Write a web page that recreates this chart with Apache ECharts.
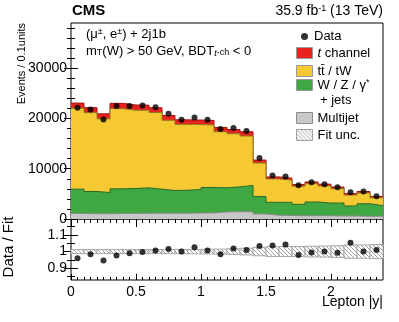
<!DOCTYPE html>
<html>
<head>
<meta charset="utf-8">
<script src="https://cdn.jsdelivr.net/npm/echarts@6/dist/echarts.min.js"></script>
<style>
html, body { margin: 0; padding: 0; background: #fff; }
#chart { width: 399px; height: 322px; }
</style>
</head>
<body>
<div id="chart"></div>
<script>
// bins in lepton |y|, width 0.1
const binEdges = [0, 0.1, 0.2, 0.3, 0.4, 0.5, 0.6, 0.7, 0.8, 0.9, 1.0, 1.1, 1.2, 1.3, 1.4, 1.5, 1.6, 1.7, 1.8, 1.9, 2.0, 2.1, 2.2, 2.3, 2.4];
const dataCounts = [22140, 21800, 19800, 22460, 22460, 22600, 22260, 20930, 19730, 20200, 19730, 17930, 18130, 17530, 12130, 8670, 8470, 6730, 7330, 6930, 6330, 5330, 5470, 4530];
// fitted processes (stacked bottom -> top)
const multijet = [1100, 1050, 1050, 1100, 1100, 1150, 1150, 1150, 1150, 1200, 1200, 1400, 1450, 1450, 1000, 750, 700, 650, 650, 650, 600, 600, 550, 550];
const wzJets = [4830, 4420, 4220, 4900, 4970, 5050, 4780, 4520, 4580, 4670, 5070, 4800, 4950, 5220, 3470, 2570, 2620, 2270, 2730, 2530, 2580, 1990, 2490, 2100];
const ttbar = [16130, 15680, 14660, 15960, 15570, 15450, 15250, 13980, 13100, 12920, 12440, 11170, 10560, 9840, 6660, 4650, 4410, 3600, 3640, 3400, 2860, 2170, 2130, 1560];
const tChannel = [1000, 1000, 1000, 1050, 1050, 1000, 950, 950, 900, 900, 900, 850, 850, 850, 600, 400, 400, 350, 350, 350, 330, 300, 300, 280];
// relative fit uncertainty per bin
const fitUnc = [0.012, 0.012, 0.012, 0.012, 0.012, 0.012, 0.012, 0.012, 0.013, 0.013, 0.014, 0.015, 0.017, 0.02, 0.025, 0.03, 0.03, 0.03, 0.032, 0.033, 0.035, 0.04, 0.04, 0.042];

const xMajor = [0, 0.5, 1, 1.5, 2];
const yMajor = [0, 10000, 20000, 30000];
const rMajor = [0.9, 1, 1.1];
const rMinor = [0.85, 0.95, 1.05, 1.15];

const FONT = 'Liberation Sans';

const xMinor = [];
for (let k = 1; k < 48; k++) if (k % 10) xMinor.push(+(k * 0.05).toFixed(2));
const yMinor = [];
for (let k = 1; k < 20; k++) if (k % 5) yMinor.push(k * 2000);

const centers = binEdges.slice(0, -1).map((e, i) => (e + binEdges[i + 1]) / 2);

// cumulative tops of the stack
const cumMJ = multijet.slice();
const cumWZ = cumMJ.map((v, i) => v + wzJets[i]);
const cumTT = cumWZ.map((v, i) => v + ttbar[i]);
const total = cumTT.map((v, i) => v + tChannel[i]);

// hatch pattern for the fit uncertainty
const hatch = document.createElement('canvas');
hatch.width = 4; hatch.height = 4;
const hc = hatch.getContext('2d');
hc.fillStyle = '#fff';
hc.fillRect(0, 0, 4, 4);
hc.strokeStyle = '#a0a0a0';
hc.lineWidth = 1;
hc.beginPath();
hc.moveTo(-1, -1); hc.lineTo(5, 5);
hc.stroke();
const hatchFill = { image: hatch, repeat: 'repeat' };

function steps(vals) {
  const pts = vals.map((v, i) => [binEdges[i], v]);
  pts.push([binEdges[vals.length], vals[vals.length - 1]]);
  return pts;
}

// each component is filled down to zero, lower components sit on top (higher z)
function stackSeries(name, tops, fill, edge, z) {
  return {
    name: name, type: 'line', step: 'end', data: steps(tops),
    symbol: 'none', z: z, silent: true,
    lineStyle: { color: edge, width: 1 },
    areaStyle: { color: fill, opacity: 1 },
    itemStyle: { color: fill },
    xAxisIndex: 0, yAxisIndex: 0
  };
}

function axes(kind, grid, min, max, major, minor, posA, posB, showLabels, lenMaj, lenMin, fmt) {
  const base = { type: 'value', gridIndex: grid, min: min, max: max, splitLine: { show: false }, axisLine: { show: false } };
  const out = [];
  [posA, posB].forEach((pos, j) => {
    out.push(Object.assign({}, base, {
      position: pos,
      axisTick: { inside: true, length: lenMaj, customValues: major, lineStyle: { color: '#000' } },
      axisLabel: (j === 0 && showLabels)
        ? { customValues: major, formatter: fmt, margin: kind === 'x' ? 5 : 4, color: '#000', fontFamily: FONT, fontSize: 14 }
        : { show: false }
    }));
    out.push(Object.assign({}, base, {
      position: pos,
      axisTick: { inside: true, length: lenMin, customValues: minor, lineStyle: { color: '#000' } },
      axisLabel: { show: false }
    }));
  });
  return out;
}

const xAxis = [].concat(
  axes('x', 0, 0, 2.4, xMajor, xMinor, 'bottom', 'top', false, 8, 4),
  axes('x', 1, 0, 2.4, xMajor, xMinor, 'bottom', 'top', true, 6, 3, v => String(v))
);
const yAxis = [].concat(
  axes('y', 0, 0, 39000, yMajor, yMinor, 'left', 'right', true, 7, 4, v => String(v)),
  axes('y', 1, 0.83, 1.195, rMajor, rMinor, 'left', 'right', true, 7, 4, v => v === 1 ? '1' : v.toFixed(1))
);

const txt = { fontFamily: FONT, fontSize: 13, color: '#000' };
const sup = { fontFamily: FONT, fontSize: 9, verticalAlign: 'top', color: '#000' };

function legendAt(name, top, opts) {
  return Object.assign({
    data: [name], left: 296, top: top, orient: 'vertical', selectedMode: false,
    itemWidth: 16, itemHeight: 11, icon: 'rect', padding: 0,
    textStyle: Object.assign({}, txt, { rich: { i: Object.assign({}, txt, { fontStyle: 'italic' }), s: sup, n: txt } })
  }, opts);
}

const option = {
  animation: false,
  grid: [
    { left: 71, right: 16, top: 23, height: 196, show: true, borderColor: '#000', borderWidth: 1, backgroundColor: 'transparent' },
    { left: 71, right: 16, top: 219, height: 61, show: true, borderColor: '#000', borderWidth: 1, backgroundColor: 'transparent' }
  ],
  xAxis: xAxis,
  yAxis: yAxis,
  legend: [
    legendAt('Data', 30, { left: 301, itemWidth: 7, itemHeight: 7, icon: 'circle', itemStyle: { color: '#000', borderWidth: 0 },
      textStyle: Object.assign({}, txt, { padding: [0, 0, 0, 1] }) }),
    legendAt('t channel', 46.5, { itemStyle: { color: '#e8231f', borderColor: '#9a9a9a', borderWidth: 1 },
      formatter: () => '{i|t}{n| channel}' }),
    legendAt('tt / tW', 64.5, { itemStyle: { color: '#f6c932', borderColor: '#9a9a9a', borderWidth: 1 },
      formatter: () => 'tt\u0304 / tW' }),
    legendAt('W / Z / γ* + jets', 78.5, { itemStyle: { color: '#3fa843', borderColor: '#9a9a9a', borderWidth: 1 },
      formatter: () => '{n|W / Z / γ}{s|*}' }),
    legendAt('Multijet', 111.5, { itemStyle: { color: '#c8c8c8', borderColor: '#8a8a8a', borderWidth: 1 } }),
    legendAt('Fit unc.', 128.5, { itemStyle: { color: hatchFill, borderColor: '#a0a0a0', borderWidth: 1 } })
  ],
  series: [
    stackSeries('t channel', total, '#e8231f', '#a3150f', 3),
    stackSeries('tt / tW', cumTT, '#f6c932', '#8f7a22', 4),
    stackSeries('W / Z / γ* + jets', cumWZ, '#3fa843', '#2a6b2b', 5),
    stackSeries('Multijet', cumMJ, '#c8c8c8', '#8a8a8a', 6),
    {
      name: 'Data', type: 'scatter', xAxisIndex: 0, yAxisIndex: 0, z: 10,
      symbol: 'circle', symbolSize: 6, itemStyle: { color: '#000' }, silent: true,
      data: centers.map((c, i) => [c, dataCounts[i]])
    },
    {
      name: 'Fit unc.', type: 'custom', xAxisIndex: 4, yAxisIndex: 4, z: 3, silent: true,
      itemStyle: { color: '#a0a0a0' },
      data: centers.map((c, i) => [binEdges[i], binEdges[i + 1], 1 - fitUnc[i], 1 + fitUnc[i]]),
      renderItem: function (params, api) {
        const a = api.coord([api.value(0), api.value(3)]);
        const b = api.coord([api.value(1), api.value(2)]);
        return {
          type: 'rect',
          shape: { x: a[0], y: a[1], width: b[0] - a[0], height: b[1] - a[1] },
          style: { fill: hatchFill, stroke: '#a8a8a8', lineWidth: 1 }
        };
      }
    },
    {
      name: 'Data / Fit', type: 'scatter', xAxisIndex: 4, yAxisIndex: 4, z: 10,
      symbol: 'circle', symbolSize: 6, itemStyle: { color: '#000' }, silent: true,
      data: centers.map((c, i) => [c, dataCounts[i] / total[i]])
    }
  ],
  graphic: [
    { type: 'text', x: 72, y: 11, style: { text: 'CMS', fontFamily: FONT, fontSize: 15, fontWeight: 'bold', fill: '#000', verticalAlign: 'middle' } },
    { type: 'text', x: 383, y: 11, style: {
      text: '{n|35.9 fb}{s|-1}{n| (13 TeV)}', align: 'right', verticalAlign: 'middle',
      rich: { n: { fontFamily: FONT, fontSize: 14, fill: '#000' }, s: { fontFamily: FONT, fontSize: 9, fill: '#000', verticalAlign: 'top' } } } },
    { type: 'text', x: 86, y: 34, style: {
      text: '{n|(μ}{s|±}{n|, e}{s|±}{n|) + 2j1b}', verticalAlign: 'middle',
      rich: { n: { fontFamily: FONT, fontSize: 13, fill: '#000' }, s: { fontFamily: FONT, fontSize: 9, fill: '#000', verticalAlign: 'top' } } } },
    { type: 'text', x: 86, y: 51, style: {
      text: '{n|m}{b|T}{n|(W) > 50 GeV, BDT}{bi|t}{b|-ch}{n| < 0}', verticalAlign: 'middle',
      rich: {
        n: { fontFamily: FONT, fontSize: 13, fill: '#000' },
        b: { fontFamily: FONT, fontSize: 9, fill: '#000', verticalAlign: 'bottom' },
        bi: { fontFamily: FONT, fontSize: 9, fill: '#000', fontStyle: 'italic', verticalAlign: 'bottom' }
      } } },
    { type: 'text', x: 320, y: 100, style: { text: '+ jets', fontFamily: FONT, fontSize: 13, fill: '#000', verticalAlign: 'middle' } },
    { type: 'text', x: 22, y: 23, rotation: Math.PI / 2, style: { text: 'Events / 0.1units', fontFamily: FONT, fontSize: 11, fill: '#000', align: 'right', verticalAlign: 'middle' } },
    { type: 'text', x: 9, y: 247, rotation: Math.PI / 2, style: { text: 'Data / Fit', fontFamily: FONT, fontSize: 15, fill: '#000', align: 'center', verticalAlign: 'middle' } },
    { type: 'text', x: 383, y: 302, style: { text: 'Lepton |y|', fontFamily: FONT, fontSize: 14, fill: '#000', align: 'right', verticalAlign: 'middle' } }
  ]
};

const myChart = echarts.init(document.getElementById('chart'));
myChart.setOption(option);
</script>
</body>
</html>
